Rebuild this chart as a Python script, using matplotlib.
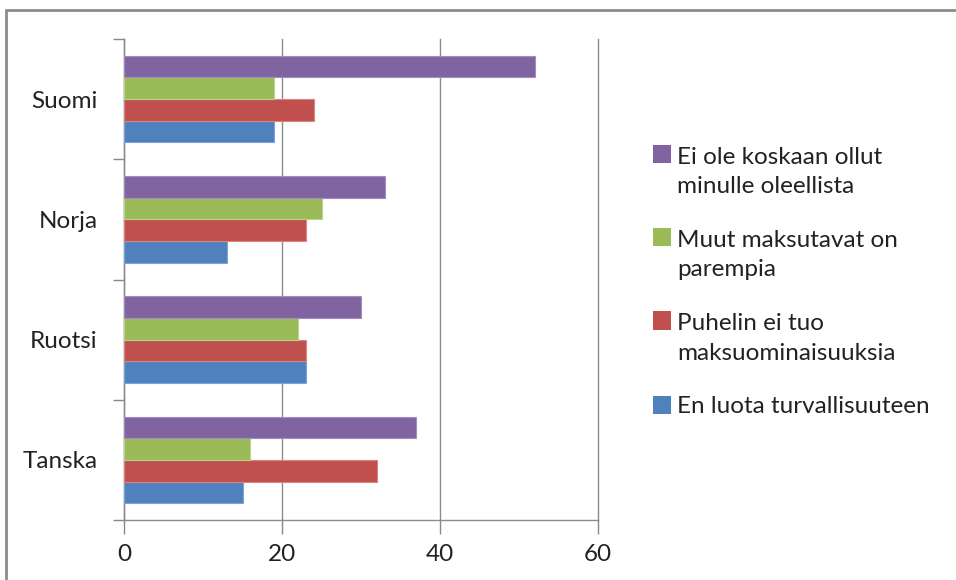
import numpy as np
import matplotlib.pyplot as plt
from matplotlib.patches import Rectangle
from matplotlib.legend_handler import HandlerPatch

# Survey data: reasons for not using mobile payments, by country (%)
countries = ['Suomi', 'Norja', 'Ruotsi', 'Tanska']
series_names = ['En luota turvallisuuteen',
                'Puhelin ei tuo\nmaksuominaisuuksia',
                'Muut maksutavat on\nparempia',
                'Ei ole koskaan ollut\nminulle oleellista']
en_luota = [19, 13, 23, 15]
puhelin = [24, 23, 23, 32]
muut = [19, 25, 22, 16]
ei_ole = [52, 33, 30, 37]
series_values = [en_luota, puhelin, muut, ei_ole]
colors = ['#4F81BD', '#C0504D', '#9BBB59', '#8064A2']
edges = ['#7FA3D6', '#D98583', '#B9D48A', '#A38DBE']

plt.rcParams['font.family'] = ['Lato', 'DejaVu Sans']

fig = plt.figure(figsize=(9.56, 5.8), dpi=100)
ax = fig.add_axes([124/956, 1 - 520/580, (598-124)/956, (520-39)/580])

# frame around the whole chart
fig.patches.append(Rectangle((6/956, -0.05), 1.1, 1 - 10/580 + 0.05,
                             transform=fig.transFigure, fill=False,
                             edgecolor='#8C8C8C', linewidth=2))

bar_h = 0.18
# categories top-to-bottom: Suomi at top, last series drawn on top of each group
ypos = np.arange(len(countries))[::-1].astype(float)
for i, (vals, c, ec) in enumerate(zip(series_values, colors, edges)):
    offset = (i - 1.5) * bar_h
    ax.barh(ypos + offset, vals, height=bar_h, color=c, edgecolor=ec,
            linewidth=0.8, zorder=3)

ax.set_xlim(0, 60)
ax.set_ylim(-0.5, len(countries) - 0.5)
ax.set_xticks([0, 20, 40, 60])
ax.set_yticks(ypos)
ax.set_yticklabels(countries)
ax.set_yticks(np.arange(-0.5, len(countries), 1), minor=True)
ax.tick_params(axis='y', which='major', length=0, pad=19, labelsize=17.5,
               colors='#222222')
ax.tick_params(axis='y', which='minor', length=8, width=1, color='#888888')
ax.tick_params(axis='x', length=10, width=1, color='#888888', pad=7,
               labelsize=17.5, labelcolor='#222222')
ax.grid(axis='x', color='#8C8C8C', linewidth=1, zorder=0)
for gl in ax.get_xgridlines():
    gl.set_clip_on(False)
for s in ['top', 'right']:
    ax.spines[s].set_visible(False)
for s in ['left', 'bottom']:
    ax.spines[s].set_color('#8C8C8C')
    ax.spines[s].set_linewidth(1)

LEG_FS = 17.5
LEG_LS = 1.5


def square_on_first_line(legend, orig_handle, xdescent, ydescent,
                         width, height, fontsize):
    # keep the colour square next to the first line of wrapped labels
    nlines = orig_handle.get_label().count('\n') + 1
    shift = (nlines - 1) * 0.5 * LEG_LS * fontsize
    size = width * 1.2
    return Rectangle((-xdescent - 0.15 * width,
                      -ydescent + shift - 0.1 * height), size, size)


handles = [Rectangle((0, 0), 1, 1, facecolor=c, edgecolor='none', label=n)
           for c, n in zip(colors, series_names)][::-1]
leg = fig.legend(handles=handles, loc='center left',
                 bbox_to_anchor=(633/956, 1 - 282/580), frameon=False,
                 fontsize=LEG_FS, handlelength=0.62, handleheight=0.62,
                 handletextpad=0.3, labelspacing=1.35,
                 handler_map={Rectangle: HandlerPatch(patch_func=square_on_first_line)})
for t in leg.get_texts():
    t.set_color('#222222')
    t.set_linespacing(LEG_LS)

fig.savefig('out.png', dpi=100)
